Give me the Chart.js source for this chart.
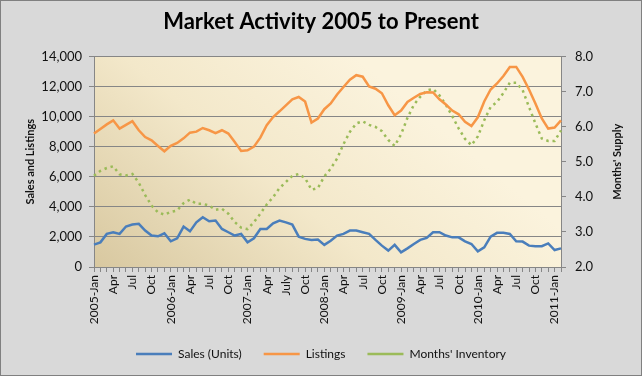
<!DOCTYPE html>
<html><head><meta charset="utf-8">
<script src="https://cdn.jsdelivr.net/npm/chart.js@4"></script>
<style>html,body{margin:0;padding:0;background:#d9d9d9}#wrap{width:642px;height:376px}</style>
</head><body><div id="wrap"><canvas id="c" width="642" height="376"></canvas></div>
<script>
const xTickLabels = ['2005-Jan','','','Apr','','','Jul','','','Oct','','',
 '2006-Jan','','','Apr','','','Jul','','','Oct','','',
 '2007-Jan','','','Apr','','','July','','','Oct','','',
 '2008-Jan','','','Apr','','','Jul','','','Oct','','',
 '2009-Jan','','','Apr','','','Jul','','','Oct','','',
 '2010-Jan','','','Apr','','','Jul','','','Oct','','',
 '2011-Jan',''];

const salesUnits = [1490,1640,2200,2310,2200,2690,2820,2870,2420,2090,2040,2240,
 1710,1910,2690,2370,2970,3310,3040,3090,2530,2310,2090,2200,
 1640,1910,2530,2530,2910,3090,2970,2820,2020,1870,1800,1820,
 1470,1750,2090,2200,2420,2420,2310,2200,1800,1420,1090,1470,
 970,1240,1530,1800,1930,2310,2310,2090,1970,1970,1710,1530,
 1040,1310,2020,2270,2270,2200,1710,1690,1420,1380,1380,1570,
 1130,1240];

const listings = [8870,9180,9480,9750,9200,9450,9690,9090,8640,8420,8040,7690,
 8050,8250,8550,8930,9000,9240,9090,8900,9090,8870,8310,7710,
 7760,8000,8600,9420,9970,10350,10750,11150,11300,11000,9600,9870,
 10490,10870,11470,11970,12450,12750,12650,12000,11850,11550,10750,10090,
 10400,10970,11250,11500,11620,11600,11150,10800,10400,10150,9650,9370,
 9950,11000,11800,12200,12700,13300,13300,12640,11800,10870,9870,9200,
 9270,9750];

const monthsInventory = [4.60,4.74,4.82,4.87,4.64,4.61,4.65,4.40,4.05,3.75,3.56,3.49,
 3.57,3.61,3.82,3.92,3.80,3.80,3.75,3.63,3.66,3.52,3.28,3.12,
 3.08,3.28,3.52,3.78,3.99,4.25,4.42,4.60,4.65,4.53,4.20,4.25,
 4.58,4.80,5.09,5.50,5.85,6.09,6.15,6.05,5.99,5.87,5.62,5.45,
 5.78,6.25,6.62,6.85,7.03,7.07,6.89,6.62,6.30,5.95,5.65,5.47,
 5.72,6.18,6.56,6.70,6.96,7.25,7.25,7.04,6.56,6.09,5.66,5.59,
 5.59,5.89];

const leftTitle = 'Sales and Listings';
const rightTitle = "Months' Supply";

Chart.defaults.font.family = 'Lato, "Open Sans", sans-serif';
Chart.defaults.color = '#111';

const GRID = '#868686';

const bgPlugin = {
  id: 'bg',
  beforeDraw(chart) {
    const {ctx, chartArea: a, width, height} = chart;
    ctx.save();
    ctx.fillStyle = '#d9d9d9';
    ctx.fillRect(0, 0, width, height);
    ctx.strokeStyle = '#808080';
    ctx.lineWidth = 1;
    ctx.strokeRect(0.5, 0.5, width - 1, height - 1);
    const g = ctx.createLinearGradient(a.left, a.bottom, a.left + a.width * 0.45, a.top - a.height * 0.2);
    g.addColorStop(0, '#d8c8a0');
    g.addColorStop(0.55, '#f3e8ca');
    g.addColorStop(1, '#fbf3dd');
    ctx.fillStyle = g;
    ctx.fillRect(a.left, a.top, a.width, a.height);
    ctx.restore();
  },
  afterDraw(chart) {
    const {ctx, chartArea: a} = chart;
    const cy = (a.top + a.bottom) / 2;
    ctx.save();
    ctx.fillStyle = '#111';
    ctx.font = 'bold 11px Lato, "Open Sans", sans-serif';
    ctx.textAlign = 'center';
    ctx.textBaseline = 'middle';
    ctx.translate(30, cy);
    ctx.rotate(-Math.PI / 2);
    ctx.fillText(leftTitle, 0, 0);
    ctx.restore();
    ctx.save();
    ctx.fillStyle = '#111';
    ctx.font = 'bold 11px Lato, "Open Sans", sans-serif';
    ctx.textAlign = 'center';
    ctx.textBaseline = 'middle';
    ctx.translate(617, cy);
    ctx.rotate(-Math.PI / 2);
    ctx.fillText(rightTitle, 0, 0);
    ctx.restore();
  }
};

new Chart(document.getElementById('c'), {
  type: 'line',
  data: {
    labels: xTickLabels,
    datasets: [
      {label: 'Sales (Units)', data: salesUnits, borderColor: '#4a7ebb', backgroundColor: '#4a7ebb', borderWidth: 2.5, pointRadius: 0, tension: 0, yAxisID: 'y'},
      {label: 'Listings', data: listings, borderColor: '#f79646', backgroundColor: '#f79646', borderWidth: 2.5, pointRadius: 0, tension: 0, yAxisID: 'y'},
      {label: "Months' Inventory", data: monthsInventory, borderColor: '#9bbb59', backgroundColor: '#9bbb59', borderWidth: 2.5, borderDash: [2.5, 3.8], pointRadius: 0, tension: 0, yAxisID: 'y1'}
    ]
  },
  options: {
    responsive: false,
    animation: false,
    devicePixelRatio: 1,
    layout: {padding: {left: 4, right: 4, top: 0, bottom: 6}},
    plugins: {
      title: {display: true, text: 'Market Activity 2005 to Present', color: '#000', font: {size: 22, weight: 'bold'}, padding: {top: 9, bottom: 21}},
      legend: {position: 'bottom', labels: {usePointStyle: true, pointStyle: 'line', pointStyleWidth: 36, boxHeight: 12, padding: 22, font: {size: 12}, color: '#111'}},
      tooltip: {enabled: false}
    },
    scales: {
      x: {
        offset: false,
        grid: {display: true, drawOnChartArea: false, drawTicks: true, tickLength: 5, color: GRID},
        border: {color: GRID},
        ticks: {autoSkip: false, maxRotation: 90, minRotation: 90, padding: 3, font: {size: 12}, color: '#111'},
        afterFit(s) { s.height = 59; }
      },
      y: {
        position: 'left', min: 0, max: 14000,
        ticks: {stepSize: 2000, padding: 7, font: {size: 13}, color: '#111', callback: v => v.toLocaleString('en-US')},
        grid: {color: GRID, tickLength: 5},
        border: {color: GRID},
        afterFit(s) { s.width = 90; }
      },
      y1: {
        position: 'right', min: 2, max: 8,
        ticks: {stepSize: 1, padding: 9, font: {size: 13}, color: '#111', callback: v => v.toFixed(1)},
        grid: {drawOnChartArea: false, tickLength: 5, color: GRID},
        border: {color: GRID},
        afterFit(s) { s.width = 77; }
      }
    }
  },
  plugins: [bgPlugin]
});
</script></body></html>
